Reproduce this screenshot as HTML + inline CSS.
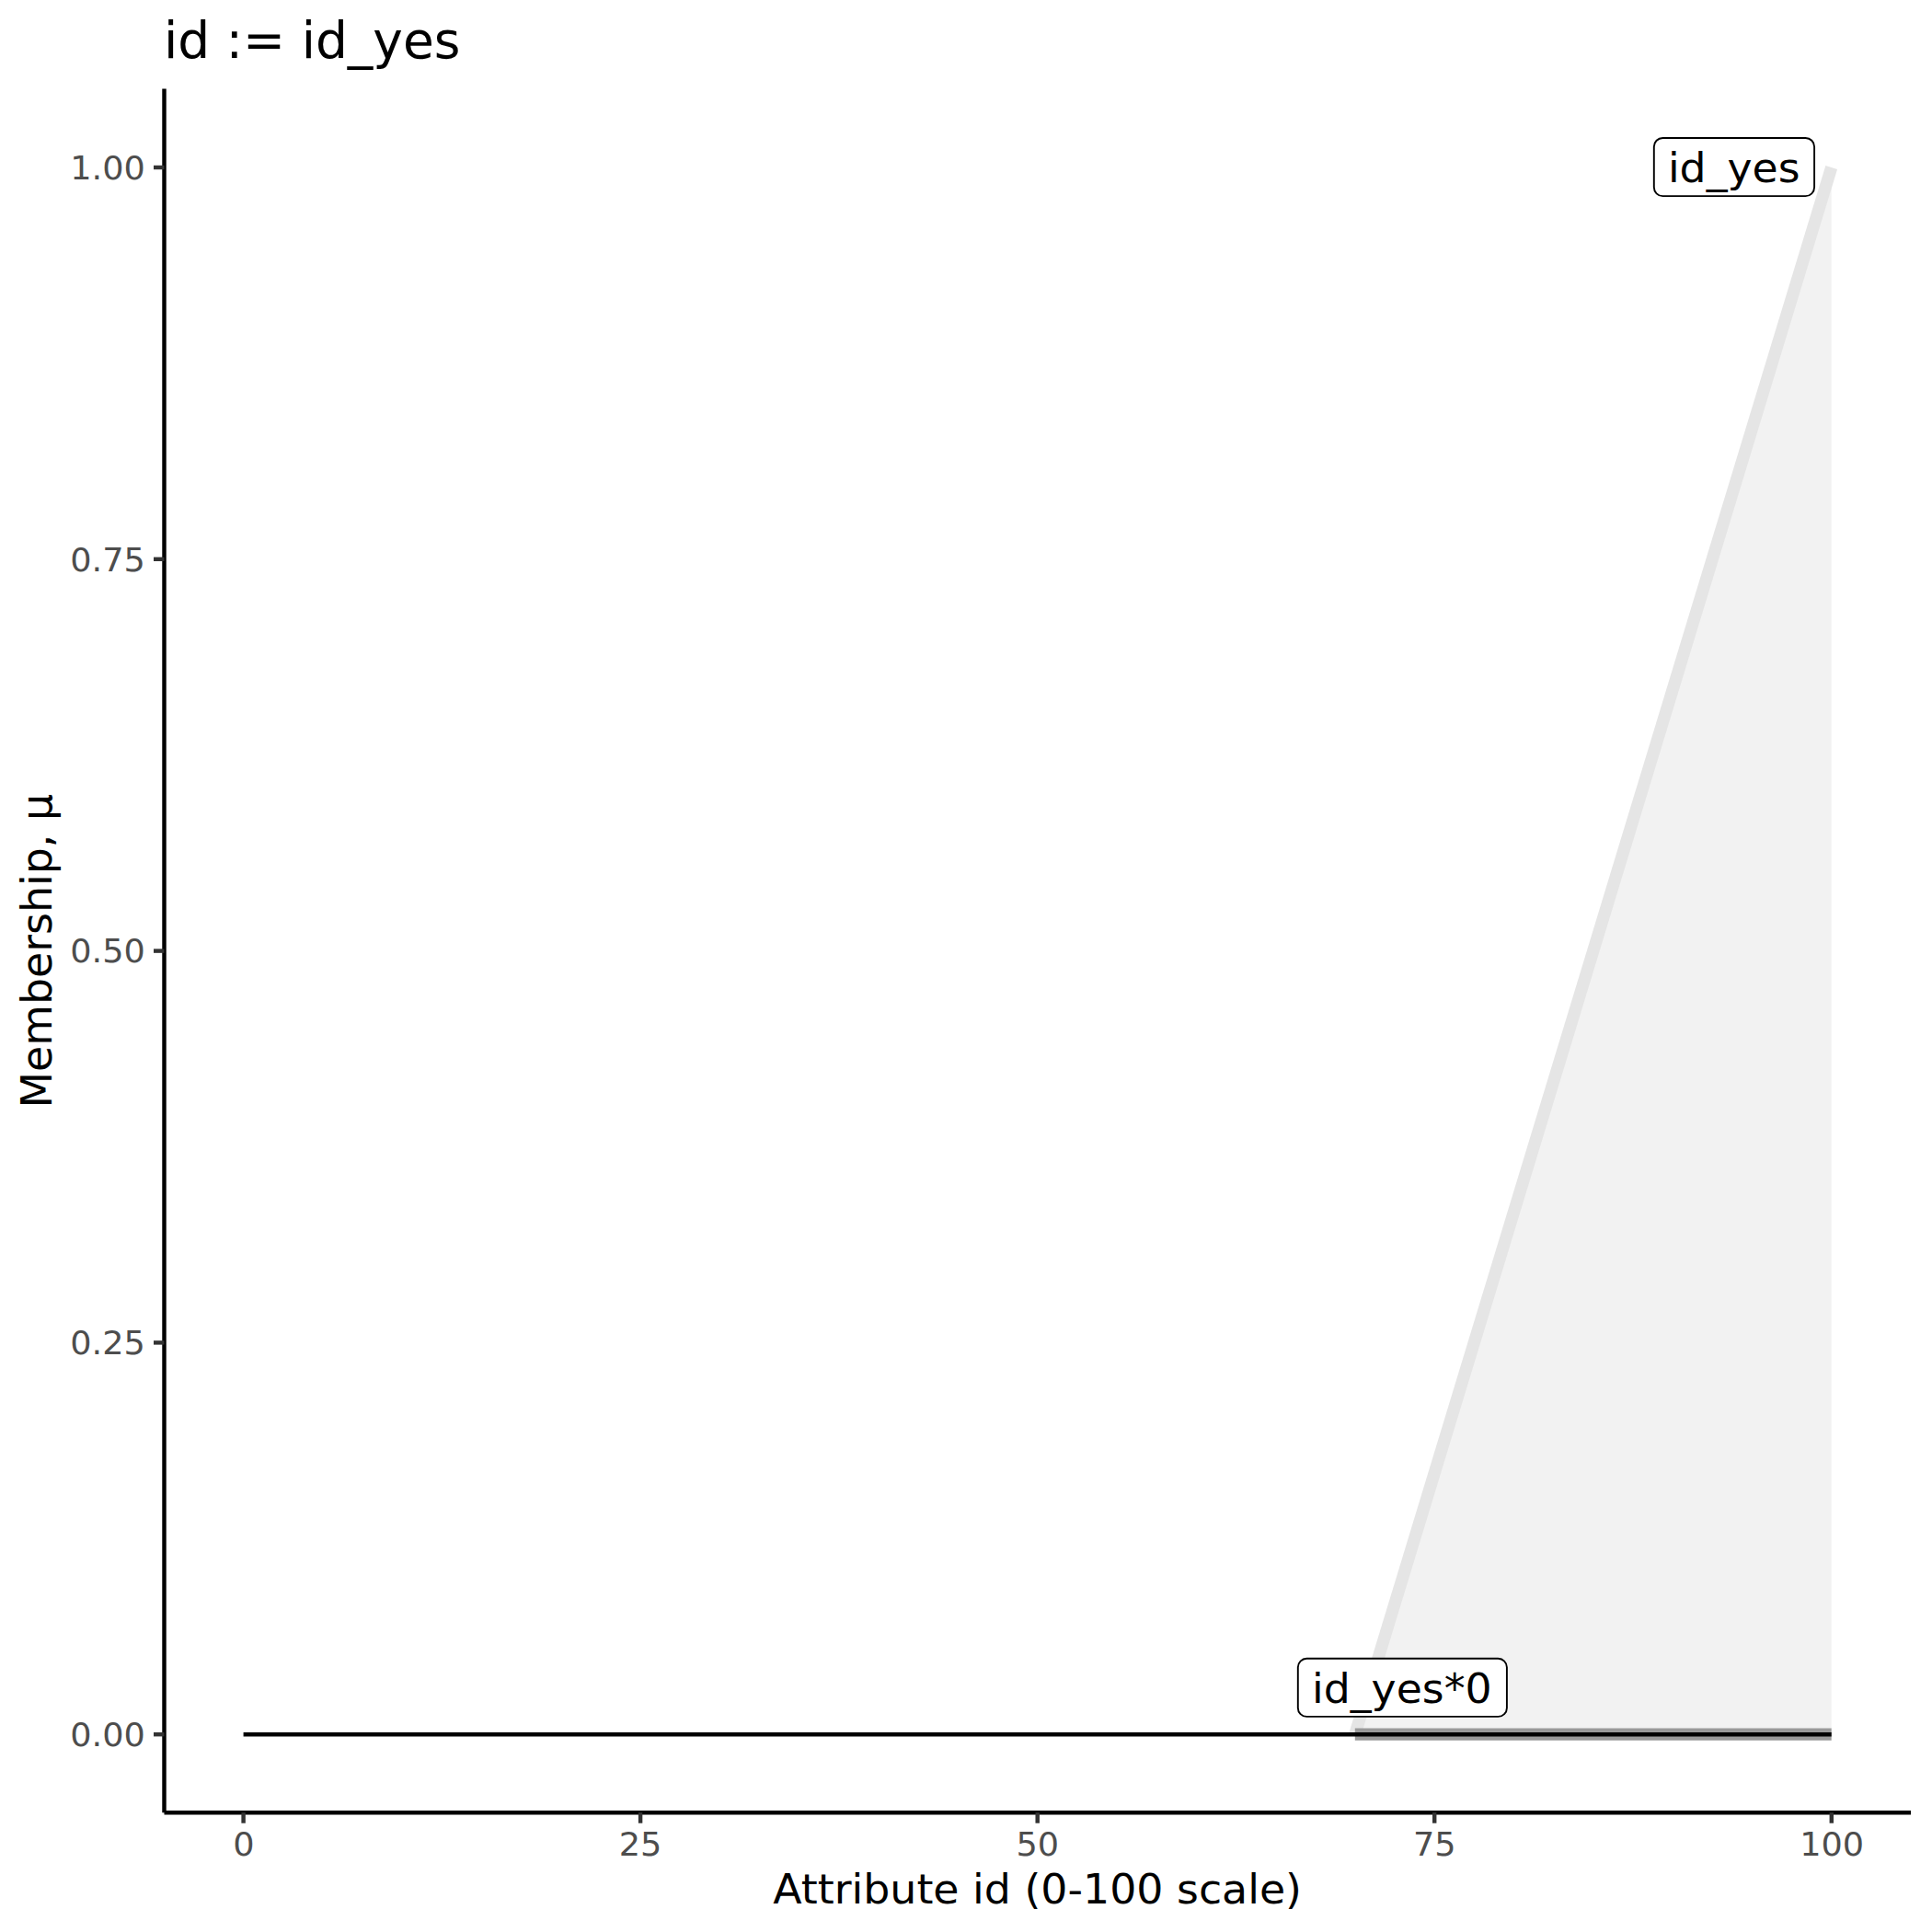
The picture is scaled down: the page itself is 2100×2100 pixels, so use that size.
<!DOCTYPE html>
<html lang="en">
<head>
<meta charset="utf-8">
<title>id := id_yes</title>
<style>
html,body{margin:0;padding:0;background:#ffffff;}
body{width:2100px;height:2100px;overflow:hidden;}
svg{display:block;}
text{font-family:"DejaVu Sans","Liberation Sans",sans-serif;}
.tk{font-size:36.67px;fill:#4d4d4d;}
.at{font-size:45.83px;fill:#000;}
.lb{font-size:45.75px;fill:#000;}
</style>
</head>
<body>
<svg width="2100" height="2100" viewBox="0 0 2100 2100">
<rect x="0" y="0" width="2100" height="2100" fill="#ffffff"/>

<!-- membership fill -->
<polygon points="1472.8,1885.2 1990.7,182 1990.7,1885.2" fill="#f2f2f2"/>
<!-- light diagonal -->
<line x1="1472.8" y1="1885.2" x2="1990.7" y2="182" stroke="#e5e5e5" stroke-width="13.3"/>
<!-- dark grey thick baseline -->
<line x1="1472.8" y1="1885.2" x2="1990.7" y2="1885.2" stroke="#999999" stroke-width="13.3"/>
<!-- black zero line -->
<line x1="264.6" y1="1885.2" x2="1990.7" y2="1885.2" stroke="#000000" stroke-width="4.45"/>

<!-- labels -->
<rect x="1797.8" y="150" width="174.3" height="63.1" rx="9.5" ry="9.5" fill="#ffffff" stroke="#000000" stroke-width="1.9"/>
<text class="lb" transform="translate(1884.7,197.7) scale(1,0.965)" text-anchor="middle">id_yes</text>
<rect x="1410.8" y="1802.8" width="227.1" height="63.1" rx="9.5" ry="9.5" fill="#ffffff" stroke="#000000" stroke-width="1.9"/>
<text class="lb" transform="translate(1523.8,1850.6) scale(1,0.965)" text-anchor="middle">id_yes*0</text>

<!-- axis lines -->
<line x1="178.5" y1="96.6" x2="178.5" y2="1970.2" stroke="#000" stroke-width="4.45"/>
<line x1="178.5" y1="1970.2" x2="2077" y2="1970.2" stroke="#000" stroke-width="4.45"/>

<!-- y ticks -->
<g stroke="#333333" stroke-width="4.45">
<line x1="167" y1="182" x2="178.5" y2="182"/>
<line x1="167" y1="607.8" x2="178.5" y2="607.8"/>
<line x1="167" y1="1033.6" x2="178.5" y2="1033.6"/>
<line x1="167" y1="1459.4" x2="178.5" y2="1459.4"/>
<line x1="167" y1="1885.2" x2="178.5" y2="1885.2"/>
</g>
<!-- x ticks -->
<g stroke="#333333" stroke-width="4.45">
<line x1="264.6" y1="1970.2" x2="264.6" y2="1981.7"/>
<line x1="696.1" y1="1970.2" x2="696.1" y2="1981.7"/>
<line x1="1127.7" y1="1970.2" x2="1127.7" y2="1981.7"/>
<line x1="1559.2" y1="1970.2" x2="1559.2" y2="1981.7"/>
<line x1="1990.8" y1="1970.2" x2="1990.8" y2="1981.7"/>
</g>

<!-- y tick labels -->
<g class="tk" text-anchor="end">
<text transform="translate(157.9,194.8) scale(1,0.945)">1.00</text>
<text transform="translate(157.9,620.6) scale(1,0.945)">0.75</text>
<text transform="translate(157.9,1046.4) scale(1,0.945)">0.50</text>
<text transform="translate(157.9,1472.2) scale(1,0.945)">0.25</text>
<text transform="translate(157.9,1898) scale(1,0.945)">0.00</text>
</g>
<!-- x tick labels -->
<g class="tk" text-anchor="middle">
<text transform="translate(264.8,2016.8) scale(1,0.945)">0</text>
<text transform="translate(696.0,2016.8) scale(1,0.945)">25</text>
<text transform="translate(1127.7,2016.8) scale(1,0.945)">50</text>
<text transform="translate(1559.3,2016.8) scale(1,0.945)">75</text>
<text transform="translate(1991.2,2016.8) scale(1,0.945)">100</text>
</g>

<!-- titles -->
<text x="177.9" y="63.2" font-size="55" fill="#000">id := id_yes</text>
<text class="at" transform="translate(1127.6,2068.5) scale(1,0.985)" text-anchor="middle">Attribute id (0-100 scale)</text>
<text class="at" transform="translate(55.9,1033.7) rotate(-90)" text-anchor="middle">Membership, μ</text>
</svg>
</body>
</html>
